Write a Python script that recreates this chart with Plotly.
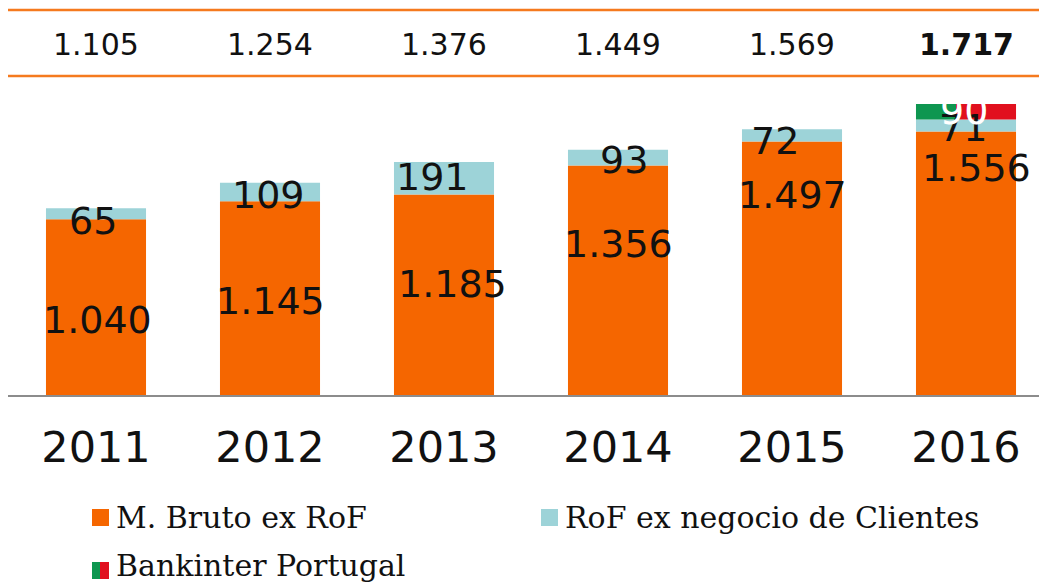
import plotly.graph_objects as go

years = ["2011", "2012", "2013", "2014", "2015", "2016"]
m_bruto = [1040, 1145, 1185, 1356, 1497, 1556]
rof_clientes = [65, 109, 191, 93, 72, 71]
bk_portugal_year = "2016"
bk_portugal = 90
total_labels = ["1.105", "1.254", "1.376", "1.449", "1.569", "1.717"]
m_bruto_labels = ["1.040", "1.145", "1.185", "1.356", "1.497", "1.556"]
rof_labels = ["65", "109", "191", "93", "72", "71"]

ORANGE = "#F56600"
BLUE = "#9DD3D8"
GREEN = "#0E9650"
RED = "#E1101E"
LINE_OR = "#F57A1E"

OFF = 8                 # page body margin
W, H = 1047 - OFF, 585 - OFF
BASE_PX = 396           # reference pixel row of the zero line
SCALE = 0.170           # px per unit
TOP_PX = 90
ymax = (BASE_PX - TOP_PX) / SCALE


def v(py):
    """reference pixel row -> data value"""
    return (BASE_PX - py) / SCALE


def py2p(py):
    """reference pixel row -> paper y"""
    return (BASE_PX - py) / (BASE_PX - TOP_PX)


def px2p(xp):
    """reference pixel column -> paper x"""
    return (xp - OFF) / W


bw = 0.575
off = -bw / 2
green_frac = 0.4

fig = go.Figure()
fig.add_trace(go.Bar(x=years, y=m_bruto, marker_color=ORANGE, width=bw, offset=off,
                     name="M. Bruto ex RoF", showlegend=False))
fig.add_trace(go.Bar(x=years, y=rof_clientes, base=m_bruto, marker_color=BLUE, width=bw,
                     offset=off, name="RoF ex negocio de Clientes", showlegend=False))
i16 = years.index(bk_portugal_year)
pt_base = m_bruto[i16] + rof_clientes[i16]
fig.add_trace(go.Bar(x=[bk_portugal_year], y=[bk_portugal], base=[pt_base], marker_color=GREEN,
                     width=bw * green_frac, offset=off, showlegend=False))
fig.add_trace(go.Bar(x=[bk_portugal_year], y=[bk_portugal], base=[pt_base], marker_color=RED,
                     width=bw * (1 - green_frac), offset=off + bw * green_frac, showlegend=False))

for tr in fig.data:
    tr.marker.line.width = 0
    tr.hoverinfo = "skip"

annotations = []
NUMFONT = "DejaVu Sans"
# totals row
for i, t in enumerate(total_labels):
    txt = f"<b>{t}</b>" if i == len(years) - 1 else t
    annotations.append(dict(x=i, y=py2p(44), text=txt, showarrow=False, xref="x", yref="paper",
                            xanchor="center", yanchor="middle",
                            font=dict(family=NUMFONT, size=30, color="#111111")))

# in-bar labels (manually placed as in the reference)
or_py = [320, 301, 284, 244, 195, 168]
or_dx = [1, 0, 8, 0, 0, 10]
bl_py = [221, 195, 177, 160, 141, 128]
bl_dx = [-3, -2, -12, 6, -17, -3]
for i in range(len(years)):
    annotations.append(dict(x=i, y=v(or_py[i]), xshift=or_dx[i], text=m_bruto_labels[i],
                            xref="x", yref="y", showarrow=False,
                            xanchor="center", yanchor="middle",
                            font=dict(family=NUMFONT, size=38, color="#111111")))
    annotations.append(dict(x=i, y=v(bl_py[i]), xshift=bl_dx[i], text=rof_labels[i],
                            xref="x", yref="y", showarrow=False,
                            xanchor="center", yanchor="middle",
                            font=dict(family=NUMFONT, size=38, color="#111111")))
annotations.append(dict(x=i16, y=v(111), xshift=-2, text=str(bk_portugal),
                        xref="x", yref="y", showarrow=False,
                        xanchor="center", yanchor="middle",
                        font=dict(family=NUMFONT, size=38, color="white")))

# manual legend
LEGFONT = dict(family="DejaVu Serif", size=30, color="#111111")
shapes = [
    dict(type="line", xref="paper", yref="paper", x0=0, x1=1, y0=py2p(10), y1=py2p(10),
         line=dict(color=LINE_OR, width=2.5)),
    dict(type="line", xref="paper", yref="paper", x0=0, x1=1, y0=py2p(76), y1=py2p(76),
         line=dict(color=LINE_OR, width=2.5)),
    dict(type="line", xref="paper", yref="paper", x0=0, x1=1, y0=0, y1=0,
         line=dict(color="#8C8C8C", width=2)),
    dict(type="rect", xref="paper", yref="paper", x0=px2p(92), x1=px2p(109), y0=py2p(526),
         y1=py2p(509), fillcolor=ORANGE, line_width=0),
    dict(type="rect", xref="paper", yref="paper", x0=px2p(541), x1=px2p(558), y0=py2p(526),
         y1=py2p(509), fillcolor=BLUE, line_width=0),
    dict(type="rect", xref="paper", yref="paper", x0=px2p(92), x1=px2p(100), y0=py2p(579),
         y1=py2p(562), fillcolor=GREEN, line_width=0),
    dict(type="rect", xref="paper", yref="paper", x0=px2p(100), x1=px2p(109), y0=py2p(579),
         y1=py2p(562), fillcolor=RED, line_width=0),
]
annotations += [
    dict(xref="paper", yref="paper", x=px2p(114), y=py2p(517), text="M. Bruto ex RoF",
         xanchor="left", yanchor="middle", showarrow=False, font=LEGFONT),
    dict(xref="paper", yref="paper", x=px2p(563), y=py2p(517), text="RoF ex negocio de Clientes",
         xanchor="left", yanchor="middle", showarrow=False, font=LEGFONT),
    dict(xref="paper", yref="paper", x=px2p(114), y=py2p(585), text="Bankinter Portugal",
         xanchor="left", yanchor="bottom", showarrow=False, font=LEGFONT),
]

fig.update_layout(
    width=W, height=H,
    margin=dict(l=0, r=0, t=TOP_PX - OFF, b=H - (BASE_PX - OFF), pad=0),
    paper_bgcolor="white", plot_bgcolor="white",
    barmode="overlay",
    showlegend=False,
    shapes=shapes,
    annotations=annotations,
    xaxis=dict(type="category", range=[(OFF - 96) / 174, (1047 - 96) / 174], showgrid=False,
               zeroline=False, showline=False, ticks="", fixedrange=True,
               tickfont=dict(family=NUMFONT, size=43, color="#111111"),
               ticklabelstandoff=22),
    yaxis=dict(range=[0, ymax], showticklabels=False, showgrid=False, zeroline=False,
               showline=False, ticks="", fixedrange=True),
)

fig.write_html("out.html", config={"displayModeBar": False})
